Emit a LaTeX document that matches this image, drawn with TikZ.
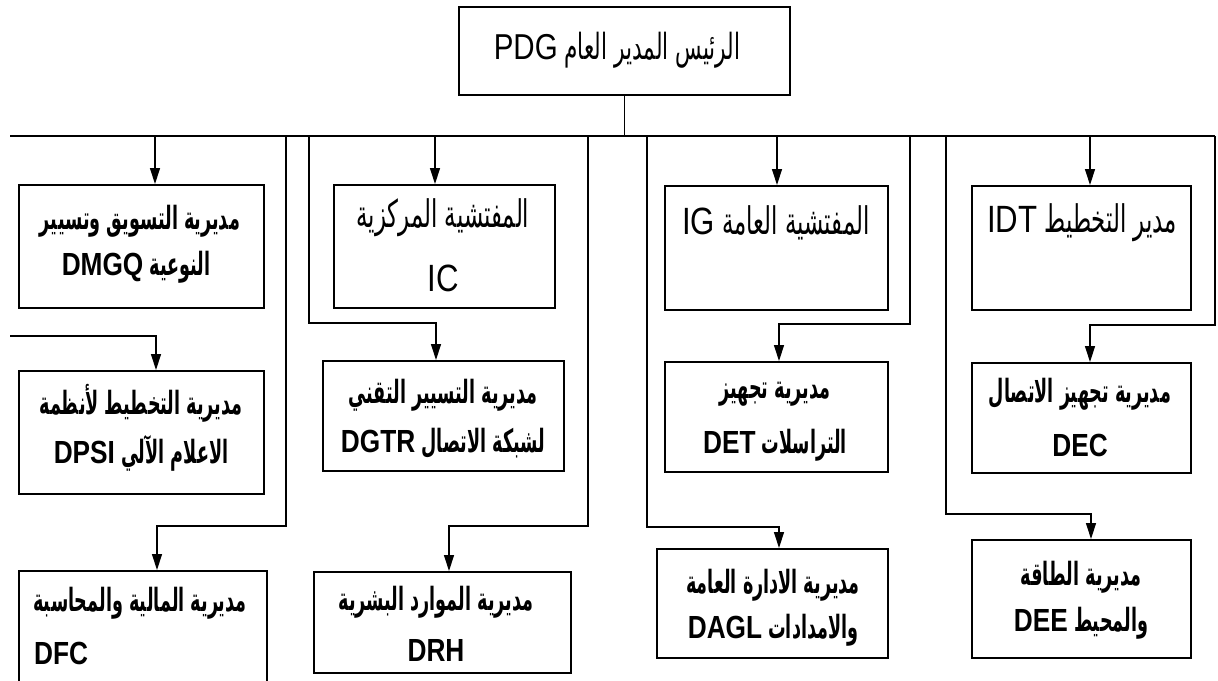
\documentclass[tikz,border=0pt]{standalone}
\usepackage{fontspec}
\usetikzlibrary{arrows.meta}
\TeXXeTstate=1
\newfontfamily\arabicfont[Script=Arabic,FakeStretch=0.55]{DejaVu Sans}
\newfontfamily\arabiclight[Script=Arabic,FakeStretch=0.6]{DejaVu Sans}
\newfontfamily\latinfont[Scale=1.0,FakeStretch=0.82]{Liberation Sans}
% one right-to-left line, with an optional Latin abbreviation at its left end
\newcommand{\rtl}[1]{\beginR #1\endR}
\newcommand{\lat}[1]{\beginL{\latinfont #1}\endL}
\tikzset{
  box/.style={draw, line width=2pt, inner sep=0pt, anchor=north west},
  conn/.style={line width=1.3pt},
  bus/.style={line width=2pt},
  arr/.style={conn, -{Triangle[length=16pt,width=10pt]}},
  lbl/.style={inner sep=0pt, font=\fontsize{32}{36}\selectfont\arabicfont\bfseries},
  big/.style={inner sep=0pt, font=\fontsize{38}{42}\selectfont\arabiclight},
}
\begin{document}
\begin{tikzpicture}[x=1pt,y=-1pt]
\useasboundingbox (0,0) rectangle (1218,680);
\clip (0,0) rectangle (1218,680);

% ---- boxes ----
\node[box, minimum width=331pt, minimum height=88pt] (pdg) at (458,6) {};
\node[box, minimum width=245pt, minimum height=123pt] (dmgq) at (18,184) {};
\node[box, minimum width=221pt, minimum height=123pt] (ic) at (333,184) {};
\node[box, minimum width=223pt, minimum height=124pt] (ig) at (664,185) {};
\node[box, minimum width=219pt, minimum height=124pt] (idt) at (971,185) {};
\node[box, minimum width=245pt, minimum height=123pt] (dpsi) at (18,370) {};
\node[box, minimum width=241pt, minimum height=110pt] (dgtr) at (322,360) {};
\node[box, minimum width=223pt, minimum height=110pt] (det) at (664,361) {};
\node[box, minimum width=219pt, minimum height=110pt] (dec) at (971,362) {};
\node[box, minimum width=248pt, minimum height=130pt] (dfc) at (18,570) {};
\node[box, minimum width=257pt, minimum height=101pt] (drh) at (313,571) {};
\node[box, minimum width=231pt, minimum height=109pt] (dagl) at (656,548) {};
\node[box, minimum width=219pt, minimum height=118pt] (dee) at (971,539) {};

% ---- texts ----
\node[big, font=\fontsize{36}{40}\selectfont\arabiclight] (pdg-1) at (617,50) {\rtl{الرئيس المدير العام \lat{PDG}}};
\node[lbl] (dmgq-1) at (140,221) {\rtl{مديرية التسويق وتسيير}};
\node[lbl] (dmgq-2) at (136,267) {\rtl{النوعية \lat{DMGQ}}};
\node[big] (ic-1) at (443,218) {\rtl{المفتشية المركزية}};
\node[big] (ic-2) at (443,278) {\lat{IC}};
\node[big] (ig-1) at (776,223) {\rtl{المفتشية العامة \lat{IG}}};
\node[big] (idt-1) at (1082,223) {\rtl{مدير التخطيط \lat{IDT}}};
\node[lbl] (dpsi-1) at (141,403) {\rtl{مديرية التخطيط لأنظمة}};
\node[lbl] (dpsi-2) at (141,453) {\rtl{الاعلام الآلي \lat{DPSI}}};
\node[lbl] (dgtr-1) at (443,395) {\rtl{مديرية التسيير التقني}};
\node[lbl] (dgtr-2) at (443,443) {\rtl{لشبكة الاتصال \lat{DGTR}}};
\node[lbl] (det-1) at (775,394) {\rtl{مديرية تجهيز}};
\node[lbl] (det-2) at (775,445) {\rtl{التراسلات \lat{DET}}};
\node[lbl] (dec-1) at (1080,394) {\rtl{مديرية تجهيز الاتصال}};
\node[lbl] (dec-2) at (1080,445) {\lat{DEC}};
\node[lbl] (dfc-1) at (140,603) {\rtl{مديرية المالية والمحاسبة}};
\node[lbl, anchor=west] (dfc-2) at (34,653) {\lat{DFC}};
\node[lbl] (drh-1) at (436,602) {\rtl{مديرية الموارد البشرية}};
\node[lbl] (drh-2) at (436,650) {\lat{DRH}};
\node[lbl] (dagl-1) at (773,585) {\rtl{مديرية الادارة العامة}};
\node[lbl] (dagl-2) at (773,630) {\rtl{والامدادات \lat{DAGL}}};
\node[lbl] (dee-1) at (1081,577) {\rtl{مديرية الطاقة}};
\node[lbl] (dee-2) at (1081,623) {\rtl{والمحيط \lat{DEE}}};

% ---- bus under the head box ----
\coordinate (busL) at (10,136);
\coordinate (busR) at (1215,136);
\draw[bus] (busL) -- (busR);
\draw[conn] (pdg.south) -- (pdg.south |- busL);

% ---- first row: straight drops from the bus ----
\coordinate (a1) at (155,136);
\coordinate (a2) at (435,136);
\coordinate (a3) at (777,136);
\coordinate (a4) at (1090,136);
\draw[arr] (a1) -- (a1 |- dmgq.north);
\draw[arr] (a2) -- (a2 |- ic.north);
\draw[arr] (a3) -- (a3 |- ig.north);
\draw[arr] (a4) -- (a4 |- idt.north);

% ---- second row ----
\coordinate (s0) at (10,336);
\coordinate (k0) at (156,336);
\draw[arr] (s0) -- (k0) -- (k0 |- dpsi.north);
\coordinate (s1) at (309,136);
\coordinate (k1) at (436,323);
\draw[arr] (s1) |- (k1) -- (k1 |- dgtr.north);
\coordinate (s2) at (910,136);
\coordinate (k2) at (779,324);
\draw[arr] (s2) |- (k2) -- (k2 |- det.north);
\coordinate (s3) at (1215,136);
\coordinate (k3) at (1090,325);
\draw[arr] (s3) |- (k3) -- (k3 |- dec.north);

% ---- third row ----
\coordinate (t1) at (286,136);
\coordinate (m1) at (157,526);
\draw[arr] (t1) |- (m1) -- (m1 |- dfc.north);
\coordinate (t2) at (588,136);
\coordinate (m2) at (449,526);
\draw[arr] (t2) |- (m2) -- (m2 |- drh.north);
\coordinate (t3) at (647,136);
\coordinate (m3) at (779,527);
\draw[arr] (t3) |- (m3) -- (m3 |- dagl.north);
\coordinate (t4) at (946,136);
\coordinate (m4) at (1091,514);
\draw[arr] (t4) |- (m4) -- (m4 |- dee.north);
\end{tikzpicture}
\end{document}
